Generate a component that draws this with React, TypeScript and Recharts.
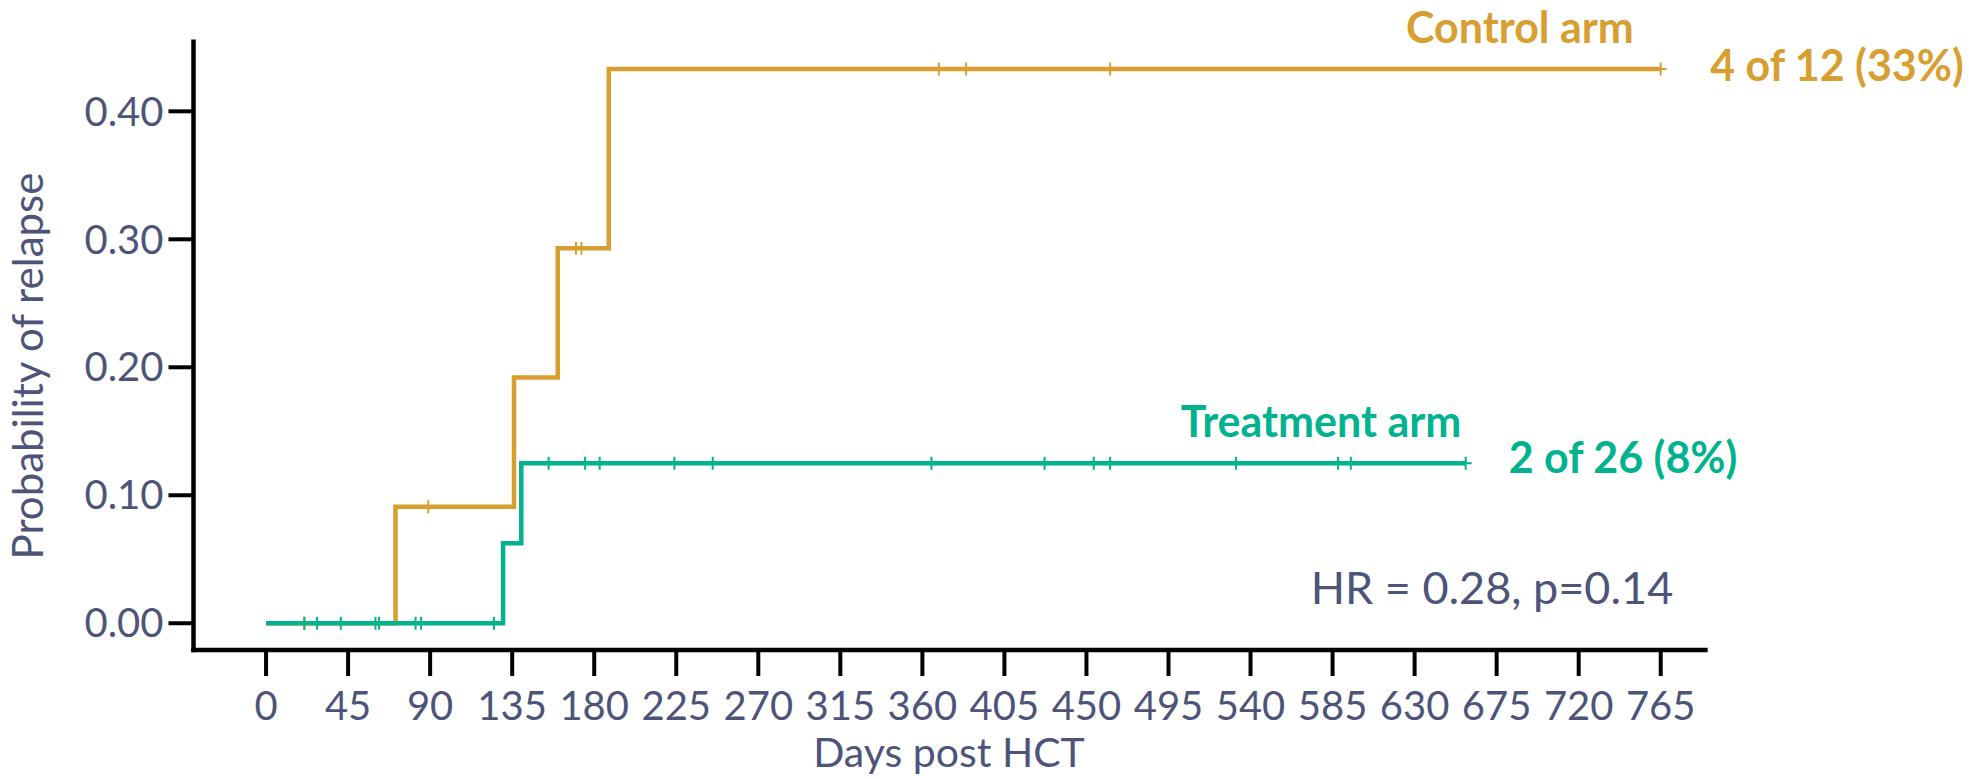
import React from 'react'
import { LineChart, Line, XAxis, YAxis } from 'recharts'

// Cumulative incidence of relapse
const controlDays = [0, 21, 71, 89, 136, 160, 170, 173, 188, 369, 384, 463, 765]
const controlRelapse = [0, 0, 0.091, 0.091, 0.192, 0.293, 0.293, 0.293, 0.433, 0.433, 0.433, 0.433, 0.433]
const controlCensored = [false, true, false, true, false, false, true, true, false, true, true, true, true]

const treatmentDays = [0, 21, 28, 41, 60, 62, 82, 85, 125, 130, 140, 155, 175, 183, 224, 245, 365, 427, 454, 463, 532, 588, 595, 658]
const treatmentRelapse = [
  0, 0, 0, 0, 0, 0, 0, 0, 0, 0.0625, 0.125, 0.125, 0.125, 0.125, 0.125, 0.125, 0.125, 0.125, 0.125, 0.125,
  0.125, 0.125, 0.125, 0.125
]
const treatmentCensored = [
  false, true, true, true, true, true, true, true, true, false, false, true, true, true, true, true, true, true,
  true, true, true, true, true, true
]

const xTicks = [0, 45, 90, 135, 180, 225, 270, 315, 360, 405, 450, 495, 540, 585, 630, 675, 720, 765]
const yTicks = [0, 0.1, 0.2, 0.3, 0.4]

const GOLD = '#D89E30'
const TEAL = '#00B38E'
const SLATE = '#4E5479'
const FONT = 'Lato, "Open Sans", sans-serif'

const buildRows = (days: number[], values: number[], censored: boolean[]) =>
  days.map((day, i) => ({ day, relapse: values[i], censored: censored[i] }))

const controlData = buildRows(controlDays, controlRelapse, controlCensored)
const treatmentData = buildRows(treatmentDays, treatmentRelapse, treatmentCensored)

// "+" marks for censored patients
const censorDot = (color: string) => (props: any) => {
  const { cx, cy, index, payload } = props
  if (!payload || !payload.censored || cx == null || cy == null) {
    return <g key={`empty-${index}`} />
  }
  return (
    <path
      key={`censor-${index}`}
      d={`M${cx - 6},${cy}H${cx + 6}M${cx},${cy - 6.5}V${cy + 6.5}`}
      stroke={color}
      strokeWidth={2}
      fill="none"
    />
  )
}

export default function App() {
  const axisStyle = { stroke: '#000', strokeWidth: 4.5, strokeLinecap: 'square' as const }
  const tickLineStyle = { stroke: '#000', strokeWidth: 4 }
  const tickStyle = { fill: SLATE, fontSize: 40, fontFamily: FONT }

  return (
    <div style={{ position: 'absolute', left: 0, top: 0, width: 1982, height: 779, background: '#fff' }}>
      <LineChart
        width={1982}
        height={779}
        margin={{ top: 41.7, right: 276.6, bottom: 0, left: 0 }}
      >
        <XAxis
          type="number"
          dataKey="day"
          domain={[-39.8, 789.5]}
          ticks={xTicks}
          interval={0}
          allowDataOverflow
          height={129}
          axisLine={axisStyle}
          tickLine={tickLineStyle}
          tickSize={26}
          tickMargin={16}
          tick={tickStyle}
        />
        <YAxis
          type="number"
          domain={[-0.0209, 0.4544]}
          ticks={yTicks}
          interval={0}
          allowDataOverflow
          width={193.5}
          axisLine={axisStyle}
          tickLine={tickLineStyle}
          tickSize={25}
          tickMargin={5}
          tick={tickStyle}
          tickFormatter={(v: number) => v.toFixed(2)}
        />

        {/* control arm */}
        <Line
          data={controlData}
          dataKey="relapse"
          type="stepAfter"
          stroke={GOLD}
          strokeWidth={4.5}
          dot={censorDot(GOLD)}
          activeDot={false}
          isAnimationActive={false}
        />

        {/* treatment arm */}
        <Line
          data={treatmentData}
          dataKey="relapse"
          type="stepAfter"
          stroke={TEAL}
          strokeWidth={4.5}
          dot={censorDot(TEAL)}
          activeDot={false}
          isAnimationActive={false}
        />
      </LineChart>

      <svg
        width={1982}
        height={779}
        style={{ position: 'absolute', left: 0, top: 0, pointerEvents: 'none' }}
      >
        <text
          x={43}
          y={366}
          transform="rotate(-90, 43, 366)"
          textAnchor="middle"
          fill={SLATE}
          fontSize={42}
          fontFamily={FONT}
        >
          Probability of relapse
        </text>
        <text x={949} y={767} textAnchor="middle" fill={SLATE} fontSize={41} fontFamily={FONT}>
          Days post HCT
        </text>
        <text x={1520} y={43} textAnchor="middle" fill={GOLD} fontSize={43} fontWeight={700} fontFamily={FONT}>
          Control arm
        </text>
        <text x={1837} y={81} textAnchor="middle" fill={GOLD} fontSize={43} fontWeight={700} fontFamily={FONT}>
          4 of 12 (33%)
        </text>
        <text x={1321} y={437} textAnchor="middle" fill={TEAL} fontSize={43} fontWeight={700} fontFamily={FONT}>
          Treatment arm
        </text>
        <text x={1623} y={473} textAnchor="middle" fill={TEAL} fontSize={43} fontWeight={700} fontFamily={FONT}>
          2 of 26 (8%)
        </text>
        <text x={1492} y={604} textAnchor="middle" fill={SLATE} fontSize={45} fontFamily={FONT}>
          HR = 0.28, p=0.14
        </text>
      </svg>
    </div>
  )
}
